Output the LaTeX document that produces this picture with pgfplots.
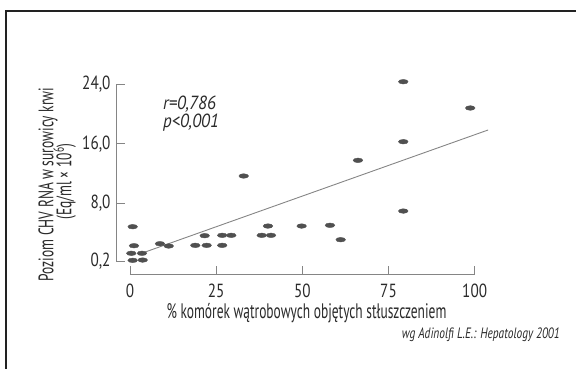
\documentclass[border=0pt]{standalone}
\usepackage{pgfplots}
\pgfplotsset{compat=1.18}
\usepackage{fontspec}
\setmainfont{PT Sans}[FakeStretch=0.64]
\newfontfamily\numfont{PT Sans}[FakeStretch=0.8]
\newfontfamily\annfont{PT Sans}[FakeStretch=0.9]
\newfontfamily\srcfont{PT Sans}[FakeStretch=0.76]
\definecolor{txt}{HTML}{2A2A2A}
\definecolor{mk}{HTML}{505050}
\definecolor{ax}{HTML}{858585}
\definecolor{fr}{HTML}{222222}
\newcommand\lab{\fontsize{21}{24}\selectfont}
\newcommand\num{\numfont\fontsize{19}{22}\selectfont}
\newcommand\ann{\annfont\itshape\fontsize{19}{22}\selectfont}
\newcommand\src{\srcfont\itshape\fontsize{15}{18}\selectfont}
\begin{document}
\begin{tikzpicture}
\draw[fr,line width=1.3pt] (6pt,0pt) -- (6pt,358pt) -- (576pt,358pt);
\begin{axis}[
  at={(116pt,94.7pt)}, anchor=south west,
  scale only axis, width=375.9pt, height=197.4pt,
  xmin=-4.06, xmax=105, ymin=-1.59, ymax=25,
  clip=false,
  axis x line*=bottom, axis y line*=left,
  axis line style={draw=none},
  tick align=inside, major tick length=8.5pt,
  tick style={ax, line width=0.9pt},
  xtick={0,25,50,75,100},
  ytick={0.2,8,16,24},
  yticklabels={{0,2},{8,0},{16,0},{24,0}},
  /pgf/number format/assume math mode=true,
  tick label style={font=\num, text=txt},
  xticklabel style={anchor=base, yshift=-23pt},
  yticklabel style={anchor=east, inner sep=0pt, xshift=-5.3pt},
]
\draw[ax, line width=0.9pt] (axis cs:-4.06,0.2) -- (axis cs:-4.06,24);
\draw[ax, line width=0.9pt] (axis cs:0,-1.59) -- (axis cs:100,-1.59);
\addplot[only marks, mark=*, mark size=2.3pt, mk,
  mark options={xscale=2.1, draw=none, fill=mk}] coordinates {
(0.78,4.82) (1.16,2.26) (0.38,1.24) (3.48,1.24) (0.78,0.29) (3.68,0.33)
(8.70,2.53) (11.23,2.22) (18.94,2.31) (22.25,2.31) (21.67,3.61)
(26.75,2.31) (26.75,3.66) (29.39,3.66) (32.99,11.65) (38.21,3.66)
(40.91,3.66) (40.03,4.91) (49.8,4.91) (58.02,5.01) (61.13,3.07)
(66.14,13.76) (79.29,24.35) (79.29,16.27) (79.29,6.93) (98.72,20.81)
};
\addplot[ax, line width=0.9pt, mark=none] coordinates {(3.86,1.32) (103.9,17.85)};
\end{axis}
\node[txt, font=\ann, anchor=base west, inner sep=0pt] at (163pt,259pt) {r=0,786};
\node[txt, font=\ann, anchor=base west, inner sep=0pt] at (163pt,241pt) {p<0,001};
\node[txt, font=\lab, anchor=base, rotate=90, inner sep=0pt] at (53.5pt,184.5pt) {Poziom CHV RNA w surowicy krwi};
\node[txt, font=\lab, anchor=base, rotate=90, inner sep=0pt] at (71.5pt,187.5pt) {(Eq/ml × 10\textsuperscript{6})};
\node[txt, font=\lab, anchor=base, inner sep=0pt] at (306.5pt,50pt) {\% komórek wątrobowych objętych stłuszczeniem};
\node[txt, font=\src, anchor=base east, inner sep=0pt] at (560pt,30pt) {wg Adinolfi L.E.: Hepatology 2001};
\pgfresetboundingbox
\path[use as bounding box] (0pt,0pt) rectangle (576pt,369pt);
\end{tikzpicture}
\end{document}
